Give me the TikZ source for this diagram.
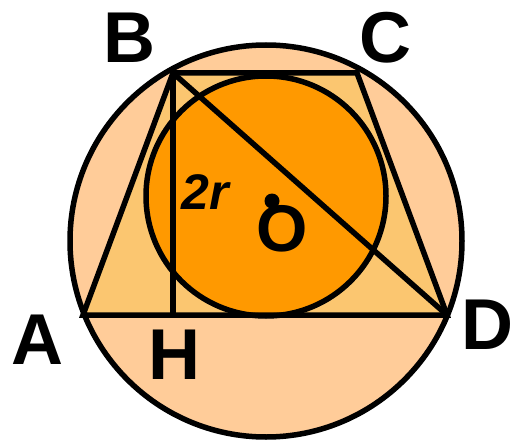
\documentclass[tikz,border=0pt]{standalone}
\usepackage{fontspec}
\setmainfont{Liberation Sans}
\usepackage{xcolor}
\usepackage{tikz}
\usetikzlibrary{calc}

\definecolor{peach}{RGB}{255,204,153}
\definecolor{trapfill}{RGB}{251,198,112}
\definecolor{incirc}{RGB}{255,153,0}

\begin{document}
\begin{tikzpicture}[x=1pt, y=-1pt, line width=5.5pt, line join=miter,
  every node/.style={inner sep=0pt, font=\fontsize{72}{72}\selectfont\bfseries}]
\useasboundingbox (0,0) rectangle (514,441);
% points of the figure
\coordinate (Oc) at (266,241);
\coordinate (I) at (266,196);
\coordinate (A) at (83,315);
\coordinate (B) at (173,73);
\coordinate (C) at (357,73);
\coordinate (D) at (447,315);
\coordinate (H) at (173,315);
% circumcircle
\draw[fill=peach] (Oc) circle (196);
% trapezoid body
\fill[trapfill] (A) -- (B) -- (C) -- (D) -- cycle;
% incircle
\draw[fill=incirc] (I) circle (120);
% sides, height and diagonal
\draw (A) -- (B) -- (C) -- (D) -- cycle;
\draw (B) -- (H);
\draw (B) -- (D);
\fill (272,201) circle (7.5);
% labels
\node (lA) at (37.5,340) {A};
\node (lB) at (129.5,37.5) {B};
\node (lC) at (385,37.5) {C};
\node (lD) at (487,325) {D};
\node (lH) at (174,354.5) {H};
\node (lO) [font=\fontsize{66}{66}\selectfont\bfseries] at (282.5,229) {O};
\node (l2r) [font=\fontsize{50}{50}\selectfont\bfseries\itshape] at (205,192) {2r};
\end{tikzpicture}
\end{document}
